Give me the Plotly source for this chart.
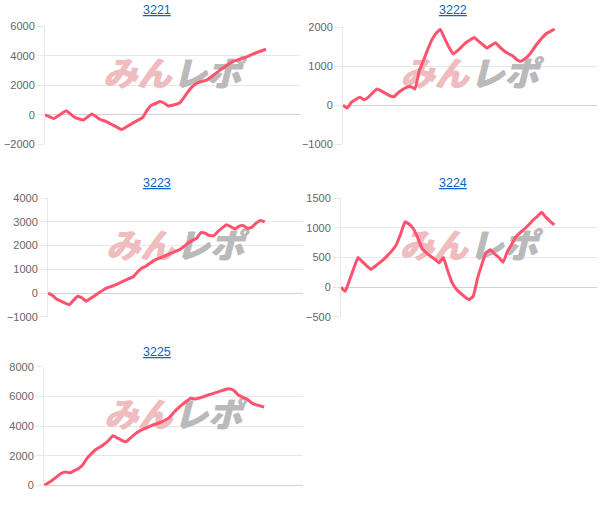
import plotly.graph_objects as go

titles = ["3221", "3222", "3223", "3224", "3225"]

s3221 = [0, -120, -260, -100, 100, 280, 50, -180, -280, -360, -150, 60, -120, -320, -420,
         -550, -700, -850, -1000, -850, -680, -500, -350, -180, 300, 650, 760, 900, 800, 600,
         650, 720, 900, 1300, 1700, 2000, 2180, 2280, 2350, 2550, 2780, 3000, 3200, 3400,
         3600, 3700, 3780, 3880, 4000, 4130, 4250, 4350, 4450]
s3222 = [0, -70, 80, 150, 210, 140, 210, 320, 420, 370, 310, 250, 220, 320, 400, 460, 480,
         420, 880, 1150, 1430, 1680, 1850, 1950, 1720, 1500, 1320, 1400, 1500, 1610, 1680,
         1740, 1650, 1560, 1470, 1540, 1610, 1500, 1400, 1330, 1280, 1180, 1130, 1200, 1300,
         1450, 1600, 1730, 1840, 1900, 1960]
s3223 = [0, -90, -250, -340, -420, -490, -300, -130, -200, -340, -220, -110, 20, 130, 230,
         290, 360, 440, 530, 610, 680, 880, 1050, 1130, 1260, 1380, 1460, 1530, 1600, 1680,
         1760, 1830, 1970, 2110, 2220, 2320, 2550, 2520, 2420, 2420, 2600, 2750, 2880, 2800,
         2700, 2820, 2840, 2720, 2780, 2950, 3060, 3000]
s3224 = [0, -70, 120, 320, 500, 430, 360, 300, 350, 410, 470, 540, 620, 720, 900, 1100, 1060,
         980, 830, 650, 580, 520, 470, 410, 500, 280, 80, -30, -100, -160, -210, -150, 150,
         380, 580, 630, 560, 500, 420, 600, 720, 850, 920, 980, 1050, 1130, 1190, 1260, 1180,
         1110, 1050]
s3225 = [0, 180, 380, 600, 830, 920, 850, 1000, 1150, 1400, 1850, 2150, 2430, 2600, 2800,
         3050, 3350, 3200, 3050, 2950, 3200, 3450, 3650, 3800, 3920, 4050, 4150, 4250, 4400,
         4580, 4900, 5200, 5450, 5680, 5880, 5830, 5900, 6000, 6100, 6180, 6280, 6380, 6470,
         6520, 6400, 6100, 5950, 5830, 5600, 5450, 5380, 5280]
series = [s3221, s3222, s3223, s3224, s3225]

y_ranges = [[-2000, 6000], [-1000, 2000], [-1000, 4000], [-500, 1500], [0, 8000]]
y_dticks = [2000, 1000, 1000, 500, 2000]
n_slots = 61

W, H = 605, 514
# plot boxes in pixels: left, right, top, bottom
boxes = [(45, 300, 26, 144), (343, 597, 27, 144), (48, 303, 198, 317),
         (341, 597, 198, 317), (44, 303, 367, 486)]
title_pos = [(157, 10), (453, 10), (157, 183), (453, 183), (157, 352)]

# empirical vertical mapping of pixel rows to paper fractions
Y_OFF, Y_SPAN = 5.5, 503.0


def py(p):
    return 1 - (p - Y_OFF) / Y_SPAN


LINE = "rgb(255,82,110)"
GRID = "#e8e8e8"
WM_PINK = "#efbcbf"
WM_GRAY = "#bababa"

fig = go.Figure()
layout = dict(width=W, height=H, margin=dict(l=0, r=0, t=0, b=0),
              paper_bgcolor="white", plot_bgcolor="white", showlegend=False,
              font=dict(family="Liberation Sans, Arial, sans-serif", size=11, color="#666"))
annotations = []
for k, (vals, box) in enumerate(zip(series, boxes)):
    i = k + 1
    sx = "" if i == 1 else str(i)
    l, r, t, b = box
    xd = [l / W, r / W]
    yd = [py(b), py(t)]
    y0, y1 = y_ranges[k]
    # watermark (beneath the line), placed in axis fractions
    cx_frac = 0.5
    cy_frac = 0.5 + 8.0 / (b - t)
    wx = cx_frac * (n_slots - 1)
    wy = y0 + cy_frac * (y1 - y0)
    fig.add_trace(go.Scatter(x=[wx - 0.4], y=[wy], mode="text", text=["<i>みん</i>"],
                             textposition="middle left",
                             textfont=dict(family="Noto Sans CJK JP", size=34, weight=900,
                                           color=WM_PINK, shadow="1px 0px 0px " + WM_PINK),
                             xaxis="x" + sx, yaxis="y" + sx, hoverinfo="skip"))
    fig.add_trace(go.Scatter(x=[wx], y=[wy], mode="text", text=["<i>レポ</i>"],
                             textposition="middle right",
                             textfont=dict(family="Noto Sans CJK JP", size=34, weight=900,
                                           color=WM_GRAY, shadow="1px 0px 0px " + WM_GRAY),
                             xaxis="x" + sx, yaxis="y" + sx, hoverinfo="skip"))
    fig.add_trace(go.Scatter(x=list(range(len(vals))), y=vals, mode="lines",
                             line=dict(color=LINE, width=3, shape="spline", smoothing=0.3),
                             xaxis="x" + sx, yaxis="y" + sx, hoverinfo="skip"))
    layout["xaxis" + sx] = dict(domain=xd, anchor="y" + sx, range=[0, n_slots - 1],
                                showticklabels=False, showgrid=False, zeroline=False,
                                showline=False, fixedrange=True)
    layout["yaxis" + sx] = dict(domain=yd, anchor="x" + sx, range=y_ranges[k],
                                dtick=y_dticks[k], tick0=0, showgrid=True, gridcolor=GRID,
                                gridwidth=1, zeroline=True, zerolinecolor="#d2d2d2",
                                zerolinewidth=1, showline=True, linecolor=GRID, linewidth=1,
                                ticks="outside", ticklen=7, tickcolor=GRID,
                                tickfont=dict(size=11, color="#666"), fixedrange=True)
    tx, ty = title_pos[k]
    annotations.append(dict(text="<u>" + titles[k] + "</u>", xref="paper", yref="paper",
                            x=tx / W, y=py(ty), xanchor="center", yanchor="middle",
                            showarrow=False,
                            font=dict(size=12.5, color="#0b63c5",
                                      family="Liberation Sans, Arial, sans-serif")))
layout["annotations"] = annotations
fig.update_layout(**layout)
fig.write_html("out.html", config={"displayModeBar": False},
               post_script="document.body.style.margin='0';document.body.style.padding='0';")
